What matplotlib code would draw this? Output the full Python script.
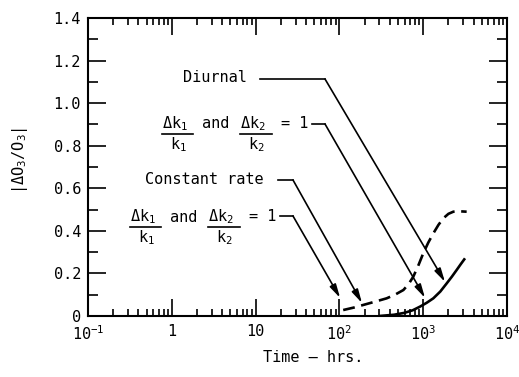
import matplotlib
matplotlib.use('Agg')
import matplotlib.pyplot as plt
from matplotlib.lines import Line2D

plt.rcParams['font.family'] = ['DejaVu Sans Mono', 'DejaVu Sans']
plt.rcParams['mathtext.fontset'] = 'custom'
plt.rcParams['mathtext.rm'] = 'DejaVu Sans Mono'
plt.rcParams['mathtext.it'] = 'DejaVu Sans Mono'
plt.rcParams['mathtext.bf'] = 'DejaVu Sans Mono:bold'

# curves (time in hrs, |dO3/O3|)
diurnal_t = [300, 450, 600, 750, 916, 1100, 1320, 1600, 1905, 2200, 2506, 2800, 3155]
diurnal_y = [0.0, 0.006, 0.015, 0.027, 0.044, 0.062, 0.083, 0.115, 0.153, 0.185, 0.216, 0.243, 0.271]

const_t = [111, 150, 193, 270, 366, 460, 580, 670, 762, 870, 1000, 1150, 1320, 1520, 1738, 2000, 2287, 2700, 3300]
const_y = [0.028, 0.040, 0.052, 0.068, 0.083, 0.100, 0.122, 0.150, 0.185, 0.235, 0.294, 0.345, 0.388, 0.428, 0.459, 0.480, 0.490, 0.492, 0.490]

xticks = [0.1, 1, 10, 100, 1000, 10000]
xticklabels = ['$10^{-1}$', '1', '10', '$10^{2}$', '$10^{3}$', '$10^{4}$']
yticks = [0, 0.2, 0.4, 0.6, 0.8, 1.0, 1.2, 1.4]
yticklabels = ['0', '0.2', '0.4', '0.6', '0.8', '1.0', '1.2', '1.4']
yminor = [0.1, 0.3, 0.5, 0.7, 0.9, 1.1, 1.3]

# where the leader arrows point (data coords)
tip_diurnal = (1820, 0.160)
tip_ratio_diurnal = (1051, 0.085)
tip_constant = (186, 0.061)
tip_ratio_constant = (102, 0.085)

W, H = 519, 377


def fp(x, y):
    # reference pixel -> figure fraction
    return (x / W, 1 - y / H)


fig = plt.figure(figsize=(W / 100, H / 100), dpi=100)
ax = fig.add_axes([88 / W, 1 - 316 / H, 419 / W, 298 / H])

ax.plot(diurnal_t, diurnal_y, color='k', lw=1.9, solid_capstyle='butt')
ax.plot(const_t, const_y, color='k', lw=1.9, dashes=(4.5, 2.5))

ax.set_xscale('log')
ax.set_xlim(0.1, 10000)
ax.set_ylim(0, 1.4)
ax.set_xticks(xticks)
ax.set_xticklabels(xticklabels)
ax.set_yticks(yticks)
ax.set_yticklabels(yticklabels)
ax.set_yticks(yminor, minor=True)

for s in ax.spines.values():
    s.set_linewidth(1.5)
ax.tick_params(which='both', direction='in', top=True, right=True, width=1.2,
               labelsize=11)
ax.tick_params(axis='x', which='major', length=12, pad=6)
ax.tick_params(axis='x', which='minor', length=5)
ax.tick_params(axis='y', which='major', length=13, pad=5)
ax.tick_params(axis='y', which='minor', length=7)

fig.text(*fp(313, 357), 'Time \u2014 hrs.', ha='center', va='center', fontsize=11)
fig.text(*fp(20, 160), r'$|\mathrm{\Delta O}_{3}/\mathrm{O}_{3}|$', ha='center', va='center',
         rotation=90, fontsize=11)

fs = 11
lw_lead = 1.2


def hline(x0, x1, y):
    fig.add_artist(Line2D([x0 / W, x1 / W], [1 - y / H] * 2, transform=fig.transFigure,
                          color='k', lw=lw_lead))


def leader(x0, x1, y, tip):
    hline(x0, x1, y)
    ax.annotate('', xy=tip, xycoords='data', xytext=fp(x1, y), textcoords='figure fraction',
                arrowprops=dict(arrowstyle='-|>,head_length=0.8,head_width=0.2',
                                color='k', lw=lw_lead, shrinkA=0, shrinkB=0))


def ratio_label(x, y):
    # "dk1/k1 and dk2/k2 = 1" written as stacked fractions
    fig.text(*fp(x, y), r'$\mathrm{Δk}_{1}$', ha='left', va='center', fontsize=fs)
    hline(x, x + 31, y + 10)
    fig.text(*fp(x + 8, y + 21), r'$\mathrm{k}_{1}$', ha='left', va='center', fontsize=fs)
    fig.text(*fp(x + 40, y), 'and', ha='left', va='center', fontsize=fs)
    fig.text(*fp(x + 78, y), r'$\mathrm{Δk}_{2}$', ha='left', va='center', fontsize=fs)
    hline(x + 78, x + 110, y + 10)
    fig.text(*fp(x + 86, y + 21), r'$\mathrm{k}_{2}$', ha='left', va='center', fontsize=fs)
    fig.text(*fp(x + 119, y - 1), '= 1', ha='left', va='center', fontsize=fs)


fig.text(*fp(183, 77), 'Diurnal', ha='left', va='center', fontsize=fs)
leader(260, 325, 79, tip_diurnal)

ratio_label(162, 124)
leader(312, 325, 124, tip_ratio_diurnal)

fig.text(*fp(145, 180), 'Constant rate', ha='left', va='center', fontsize=fs)
leader(278, 293, 180, tip_constant)

ratio_label(130, 217)
leader(280, 293, 216, tip_ratio_constant)

fig.savefig('out.png', dpi=100)
